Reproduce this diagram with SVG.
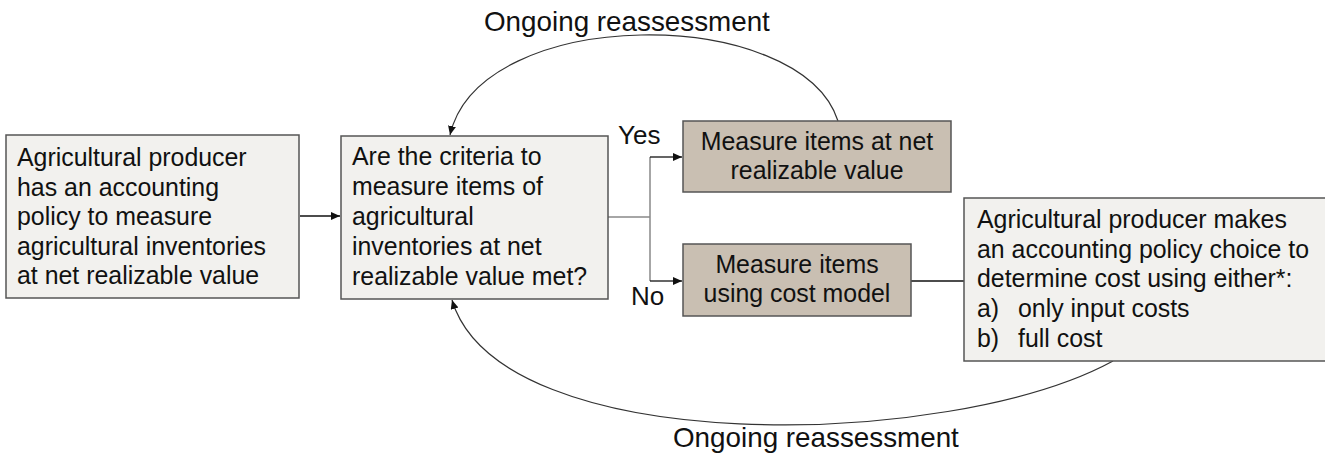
<svg xmlns="http://www.w3.org/2000/svg" width="1325" height="457" viewBox="0 0 1325 457">
<style>
text{font-family:"Liberation Sans",Arial,sans-serif;fill:#111;}
.t{font-size:24.9px;}
.lbl{font-size:27.8px;}
.yn{font-size:26px;}
.light{fill:#f2f1ee;stroke:#555;stroke-width:1.5;}
.tan{fill:#c9bfb2;stroke:#555;stroke-width:1.5;}
.ln{fill:none;stroke:#111;stroke-width:1.3;}
.gl{fill:none;stroke:#888;stroke-width:1.5;}
.arc{fill:none;stroke:#333;stroke-width:1.2;}
</style>
<defs>
<marker id="ah" markerUnits="userSpaceOnUse" markerWidth="10" markerHeight="10" refX="9" refY="4" orient="auto">
<path d="M0,0 L9,4 L0,8 Z" fill="#111"/>
</marker>
</defs>
<g id="connectors">
<line class="ln" x1="300" y1="216" x2="340" y2="216" marker-end="url(#ah)"/>
<polyline class="gl" points="608,217 650,217"/>
<polyline class="gl" points="650,157 650,281"/>
<line class="ln" x1="650" y1="157" x2="682" y2="157" marker-end="url(#ah)"/>
<line class="ln" x1="650" y1="281" x2="682" y2="281" marker-end="url(#ah)"/>
<line class="ln" x1="911" y1="281" x2="964" y2="281"/>
<path class="arc" d="M838,121 C800,4 480,4 450,135" marker-end="url(#ah)"/>
<path class="arc" d="M1113,361 C950,450 500,460 452,300" marker-end="url(#ah)"/>
<text class="lbl" x="484" y="31">Ongoing reassessment</text>
<text class="lbl" x="673" y="447">Ongoing reassessment</text>
<text class="yn" x="618" y="144">Yes</text>
<text class="yn" x="631" y="305">No</text>
</g>
<g id="node-policy">
<rect class="light" x="6" y="135" width="293" height="163"/>
<text class="t" x="17" y="166">Agricultural producer</text>
<text class="t" x="17" y="195.5">has an accounting</text>
<text class="t" x="17" y="225">policy to measure</text>
<text class="t" x="17" y="254.5">agricultural inventories</text>
<text class="t" x="17" y="284">at net realizable value</text>
</g>
<g id="node-criteria">
<rect class="light" x="341" y="136" width="267" height="163"/>
<text class="t" x="352" y="165">Are the criteria to</text>
<text class="t" x="352" y="195">measure items of</text>
<text class="t" x="352" y="225">agricultural</text>
<text class="t" x="352" y="255">inventories at net</text>
<text class="t" x="352" y="285">realizable value met?</text>
</g>
<g id="node-nrv">
<rect class="tan" x="683" y="121" width="268" height="71"/>
<text class="t" x="817" y="150" text-anchor="middle">Measure items at net</text>
<text class="t" x="817" y="179" text-anchor="middle">realizable value</text>
</g>
<g id="node-cost">
<rect class="tan" x="683" y="244" width="228" height="72"/>
<text class="t" x="797" y="273" text-anchor="middle">Measure items</text>
<text class="t" x="797" y="302" text-anchor="middle">using cost model</text>
</g>
<g id="node-choice">
<rect class="light" x="964" y="198" width="370" height="163"/>
<text class="t" x="977" y="228">Agricultural producer makes</text>
<text class="t" x="977" y="257.5">an accounting policy choice to</text>
<text class="t" x="977" y="287">determine cost using either*:</text>
<text class="t" x="977" y="317">a)</text>
<text class="t" x="1018" y="317">only input costs</text>
<text class="t" x="977" y="347">b)</text>
<text class="t" x="1018" y="347">full cost</text>
</g>
</svg>
